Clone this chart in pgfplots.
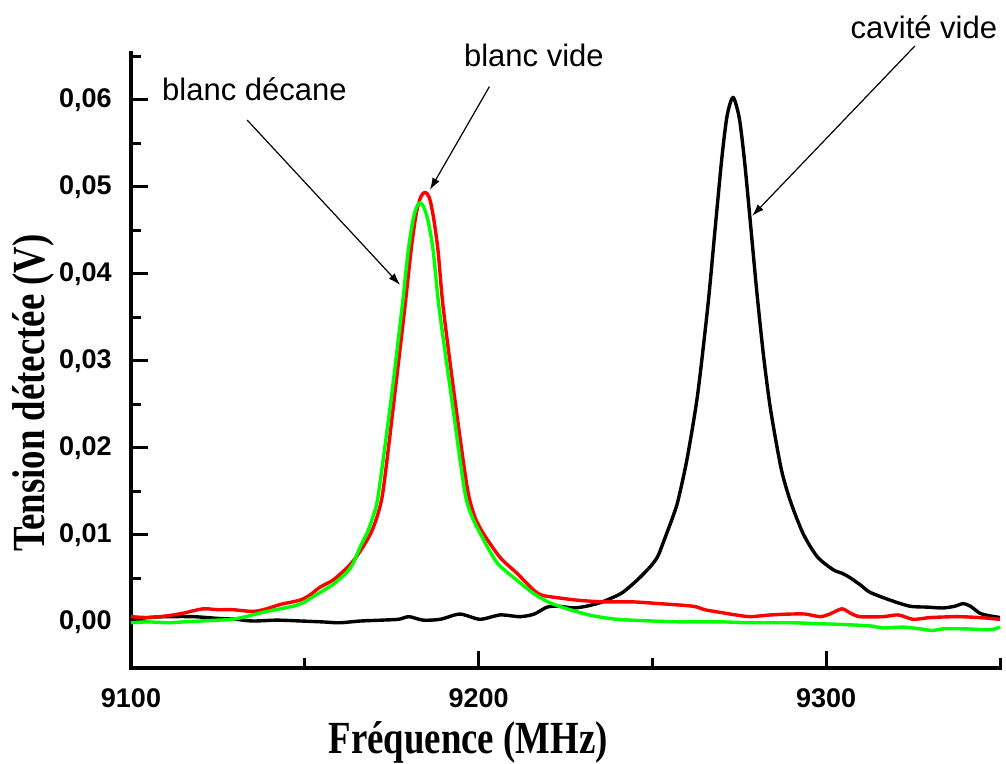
\documentclass[border=0pt]{standalone}
\usepackage{fontspec}
\setmainfont{Liberation Sans}
\newfontfamily\timesfont[FakeStretch=0.8]{Liberation Serif}
\usepackage{pgfplots}
\pgfplotsset{compat=1.18}
\usetikzlibrary{arrows.meta}
\begin{document}
\begin{tikzpicture}
\useasboundingbox (0,0) rectangle (503pt,382pt);
\begin{axis}[
  at={(65.5pt,48pt)}, anchor=south west,
  scale only axis, width=434.5pt, height=307.5pt,
  xmin=9100, xmax=9350, ymin=-0.0053, ymax=0.0654,
  clip=false,
  scaled y ticks=false, scaled x ticks=false,
  axis x line*=bottom, axis y line*=left,
  axis line style={line width=1.8pt, -, line cap=rect},
  xtick={9100,9200,9300}, xticklabels={9100,9200,9300},
  minor xtick={9150,9250,9350},
  ytick={0,0.01,0.02,0.03,0.04,0.05,0.06},
  yticklabels={{0,00},{0,01},{0,02},{0,03},{0,04},{0,05},{0,06}},
  minor ytick={0.005,0.015,0.025,0.035,0.045,0.055,0.065},
  tick align=inside,
  major tick length=8.5pt, minor tick length=5pt,
  tick style={line width=1.5pt, black},
  tick label style={font=\fontsize{13.5}{16}\selectfont\bfseries},
  yticklabel style={inner sep=0pt, xshift=-9.5pt},
  xticklabel style={inner sep=0pt, yshift=-10pt},
  xlabel={\timesfont\bfseries Fréquence (MHz)},
  xlabel style={at={(axis description cs:0.388,-0.1398)}, anchor=base, font=\fontsize{23}{26}\selectfont},
  ylabel={\timesfont\bfseries Tension détectée (V)},
  ylabel style={at={(axis description cs:-0.1128,0.447)}, anchor=center, font=\fontsize{23}{26}\selectfont},
  every axis plot/.append style={line width=1.7pt, line join=round, smooth, tension=0.45},
]
\addplot[black] coordinates {
(9100,0.0003) (9105,0.0005) (9110,0.0006) (9118,0.0006) (9125,0.0004) (9130,0.0003) (9135,0.0001) (9142,0.0002) (9149,0.0001) (9155,0.0000) (9160,-0.0001) (9166,0.0001) (9172,0.0002) (9177,0.0003) (9180,0.0006) (9184,0.0002) (9189,0.0003) (9194.6,0.0009) (9200.4,0.0003) (9206.2,0.0008) (9211.9,0.0006) (9216,0.0009) (9219.7,0.0017) (9223,0.0018) (9227.2,0.0016) (9231,0.0018) (9234.9,0.0022) (9238,0.0027) (9241.5,0.0034) (9245.6,0.0048) (9249.3,0.0063) (9251.5,0.0075) (9253.1,0.0091) (9255.9,0.0121) (9257.4,0.0140) (9260,0.0188) (9263,0.0261) (9266,0.0365) (9268,0.0450) (9270,0.0534) (9271.5,0.0582) (9273.2,0.0603) (9275,0.0579) (9276.5,0.0530) (9278,0.0467) (9280,0.0381) (9282,0.0305) (9284,0.0244) (9287,0.0177) (9289.6,0.0140) (9293.3,0.0102) (9297.4,0.0075) (9302,0.0060) (9304.5,0.0056) (9306.8,0.0051) (9310,0.0042) (9312.6,0.0034) (9318.4,0.0025) (9324.1,0.0018) (9329,0.0017) (9333.6,0.0016) (9337,0.0018) (9339.4,0.0021) (9341.5,0.0018) (9344.2,0.0010) (9347,0.0007) (9350,0.0005)
};
\addplot[red] coordinates {
(9100,0.0006) (9105,0.0005) (9110.4,0.0007) (9115,0.0010) (9120.7,0.0015) (9125,0.0014) (9129.3,0.0014) (9135.1,0.0012) (9139,0.0015) (9142.9,0.0020) (9148.6,0.0025) (9151.5,0.0031) (9154.4,0.0040) (9158.1,0.0048) (9162.1,0.0062) (9164.5,0.0073) (9166.7,0.0086) (9169,0.0102) (9170.8,0.0121) (9172.5,0.0150) (9175.4,0.0245) (9178.8,0.0362) (9180.6,0.0428) (9182.0,0.0468) (9183.3,0.0488) (9184.6,0.0494) (9185.8,0.0488) (9186.9,0.0468) (9188.3,0.0428) (9189.8,0.0362) (9193.2,0.0255) (9196.7,0.0155) (9198.8,0.0122) (9201.3,0.0102) (9206.2,0.0074) (9211.0,0.0056) (9215.7,0.0037) (9218,0.0031) (9220.5,0.0029) (9228.3,0.0025) (9236,0.0023) (9244.4,0.0023) (9252,0.0021) (9261.7,0.0018) (9265,0.0014) (9269.4,0.0011) (9274,0.0008) (9278.1,0.0006) (9284,0.0008) (9289.6,0.0009) (9294,0.0009) (9298.2,0.0006) (9301,0.0009) (9304.5,0.0015) (9307,0.0010) (9309.7,0.0006) (9316.3,0.0006) (9320.7,0.0008) (9325.0,0.0003) (9330,0.0005) (9337.6,0.0006) (9344,0.0005) (9350,0.0003)
};
\addplot[green] coordinates {
(9100,-0.0001) (9105,0.0000) (9110.4,-0.0001) (9115,0.0000) (9119.9,0.0001) (9125,0.0002) (9129.3,0.0003) (9134,0.0007) (9139.1,0.0012) (9146.6,0.0018) (9149.5,0.0022) (9152.4,0.0029) (9158.1,0.0043) (9162.1,0.0057) (9164,0.0068) (9165.9,0.0086) (9168,0.0103) (9169.6,0.0121) (9171.1,0.0145) (9174.8,0.0255) (9178.0,0.0362) (9179.7,0.0425) (9181.1,0.0462) (9182.2,0.0477) (9183.1,0.0482) (9184.2,0.0477) (9185.4,0.0462) (9186.9,0.0428) (9188.6,0.0362) (9192.3,0.0255) (9196.0,0.0150) (9198,0.0122) (9200.4,0.0102) (9205.3,0.0068) (9211.0,0.0048) (9215.7,0.0033) (9220.5,0.0022) (9226.3,0.0014) (9232.9,0.0007) (9239.8,0.0003) (9250,0.0001) (9258.8,0.0000) (9270,0.0000) (9278.1,-0.0001) (9290,-0.0001) (9297.4,-0.0002) (9305,-0.0003) (9310,-0.0004) (9313.5,-0.0005) (9316.3,-0.0007) (9322.1,-0.0006) (9327,-0.0008) (9330.7,-0.0010) (9333.6,-0.0008) (9340,-0.0008) (9347.1,-0.0009) (9350,-0.0006)
};
\node[anchor=base, font=\fontsize{15.5}{18}\selectfont] at (axis cs:9135.5,0.0599) {blanc décane};
\node[anchor=base, font=\fontsize{15.5}{18}\selectfont] at (axis cs:9215.9,0.0638) {blanc vide};
\node[anchor=base, font=\fontsize{15.5}{18}\selectfont] at (axis cs:9328.1,0.0671) {cavité vide};
\draw[line width=0.6pt, -{Latex[length=6pt,width=4pt]}] (axis cs:9133.4,0.0577) -- (axis cs:9177.4,0.03874);
\draw[line width=0.6pt, -{Latex[length=6pt,width=4pt]}] (axis cs:9203.1,0.06153) -- (axis cs:9186.0,0.04966);
\draw[line width=0.6pt, -{Latex[length=6pt,width=4pt]}] (axis cs:9325.5,0.0662) -- (axis cs:9278.7,0.04667);
\end{axis}
\end{tikzpicture}
\end{document}
